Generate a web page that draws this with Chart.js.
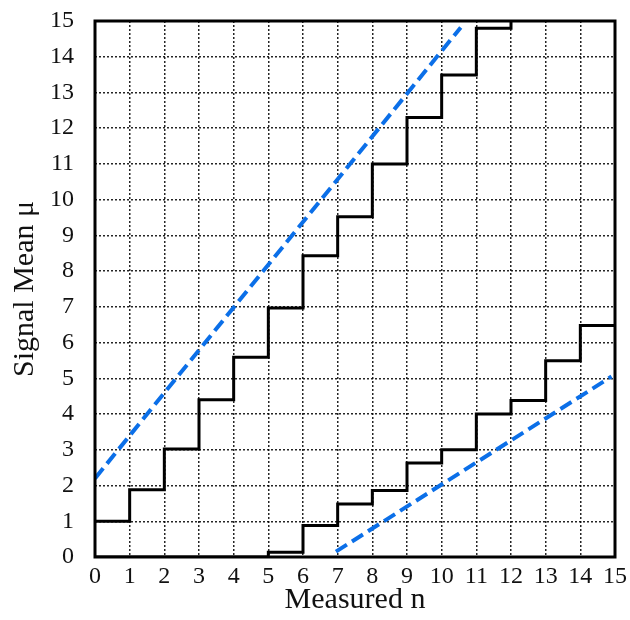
<!DOCTYPE html>
<html lang="en">
<head>
    <meta charset="UTF-8">
    <title>Signal Mean vs Measured n</title>
    <script src="https://cdn.jsdelivr.net/npm/chart.js"></script>
    <style>
        html, body { margin: 0; padding: 0; background: #fff; }
        #wrap { width: 630px; height: 620px; }
    </style>
</head>
<body>
    <div id="wrap"><canvas id="limitsChart" width="630" height="620"></canvas></div>

    <script>
        // Measured counts n (left edge of every step)
        var measured = [0, 1, 2, 3, 4, 5, 6, 7, 8, 9, 10, 11, 12, 13, 14, 15];

        // Upper edge of the band (n = 12 goes off the top of the plot)
        var upperMu = [1.0, 1.88, 3.02, 4.40, 5.59, 6.97, 8.43, 9.52, 11.0, 12.3, 13.49, 14.8, 16];

        // Lower edge of the band (last value repeated to close the final step)
        var lowerMu = [0, 0, 0, 0, 0, 0.13, 0.88, 1.48, 1.86, 2.63, 3.0, 4.0, 4.38, 5.49, 6.48, 6.48];

        // Dashed reference lines, endpoints as [n, mu]
        var upperDashX = [0, 10.55];
        var upperDashY = [2.2, 14.82];
        var lowerDashX = [6.95, 14.9];
        var lowerDashY = [0.15, 5.05];

        var tickValues = [0, 1, 2, 3, 4, 5, 6, 7, 8, 9, 10, 11, 12, 13, 14, 15];

        function toPoints(xs, ys) {
            var pts = [];
            for (var i = 0; i < ys.length; i++) {
                pts.push({ x: xs[i], y: ys[i] });
            }
            return pts;
        }

        var serif = "'Liberation Serif', 'DejaVu Serif', serif";

        // Heavy black frame round the plotting area
        var framePlugin = {
            id: 'frame',
            afterDatasetsDraw: function (chart) {
                var a = chart.chartArea;
                var ctx = chart.ctx;
                ctx.save();
                ctx.strokeStyle = '#000';
                ctx.lineWidth = 3;
                ctx.strokeRect(a.left, a.top, a.right - a.left, a.bottom - a.top);
                ctx.restore();
            }
        };

        var stepStyle = {
            borderColor: '#000',
            borderWidth: 3,
            pointRadius: 0,
            stepped: 'before',
            fill: false
        };

        var dashStyle = {
            borderColor: '#0b6fe8',
            borderWidth: 4,
            borderDash: [13, 6],
            pointRadius: 0,
            fill: false
        };

        var limitsConfig = {
            type: 'line',
            data: {
                datasets: [
                    Object.assign({ label: 'upper', data: toPoints(measured, upperMu) }, stepStyle),
                    Object.assign({ label: 'lower', data: toPoints(measured, lowerMu) }, stepStyle),
                    Object.assign({ label: 'upperDash', data: toPoints(upperDashX, upperDashY) }, dashStyle),
                    Object.assign({ label: 'lowerDash', data: toPoints(lowerDashX, lowerDashY) }, dashStyle)
                ]
            },
            options: {
                responsive: false,
                animation: false,
                layout: { padding: { top: 21, right: 15, left: 0, bottom: 0 } },
                plugins: {
                    legend: { display: false },
                    tooltip: { enabled: false }
                },
                scales: {
                    x: {
                        type: 'linear',
                        min: 0,
                        max: 15,
                        afterBuildTicks: function (scale) {
                            scale.ticks = tickValues.map(function (v) { return { value: v }; });
                        },
                        afterFit: function (scale) {
                            scale.height = 63;
                            scale.paddingLeft = 0;
                            scale.paddingRight = 0;
                        },
                        grid: { color: 'rgba(0,0,0,0.85)', lineWidth: 1.5, drawTicks: false },
                        border: { display: false, dash: [2, 2] },
                        ticks: {
                            color: '#111',
                            padding: 5,
                            maxRotation: 0,
                            autoSkip: false,
                            font: { family: serif, size: 24 }
                        },
                        title: {
                            display: true,
                            text: 'Measured n',
                            color: '#111',
                            padding: { top: 0, bottom: 2 },
                            font: { family: serif, size: 30 }
                        }
                    },
                    y: {
                        type: 'linear',
                        min: 0,
                        max: 15,
                        afterBuildTicks: function (scale) {
                            scale.ticks = tickValues.map(function (v) { return { value: v }; });
                        },
                        afterFit: function (scale) {
                            scale.width = 95;
                            scale.paddingTop = 0;
                            scale.paddingBottom = 0;
                        },
                        grid: { color: 'rgba(0,0,0,0.85)', lineWidth: 1.5, drawTicks: false },
                        border: { display: false, dash: [2, 2] },
                        ticks: {
                            color: '#111',
                            padding: 21,
                            autoSkip: false,
                            font: { family: serif, size: 24 }
                        },
                        title: {
                            display: true,
                            text: 'Signal Mean μ',
                            color: '#111',
                            padding: { top: 7, bottom: 0 },
                            font: { family: serif, size: 30 }
                        }
                    }
                }
            },
            plugins: [framePlugin]
        };

        var limitsChart = new Chart(document.getElementById('limitsChart'), limitsConfig);
    </script>
</body>
</html>
